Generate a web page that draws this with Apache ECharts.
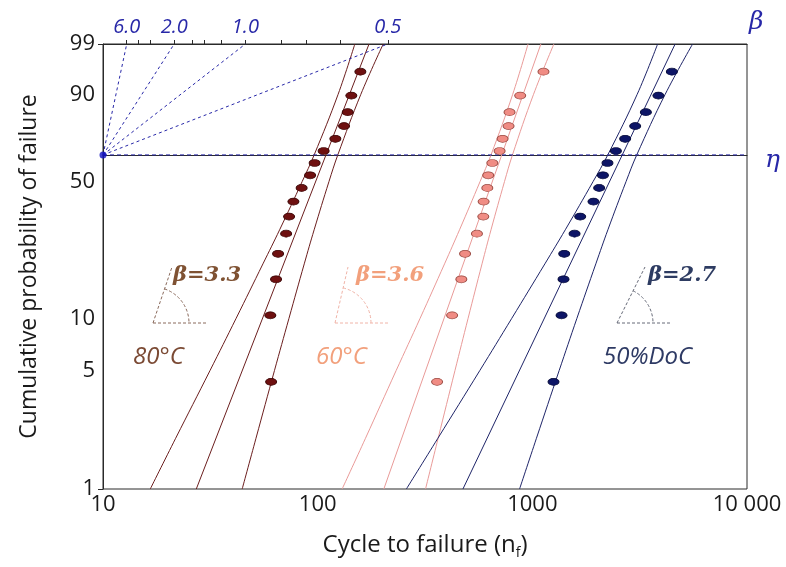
<!DOCTYPE html>
<html>
<head>
<meta charset="utf-8">
<title>Weibull plot</title>
<script src="https://cdn.jsdelivr.net/npm/echarts@6/dist/echarts.min.js"></script>
<style>
  html, body { margin: 0; padding: 0; background: #fff; }
  #chart { width: 786px; height: 567px; }
</style>
</head>
<body>
<div id="chart"></div>
<script>
// 中位秩 (%) - same 16 ranks for every group
const rankProb = [4.3, 10.4, 16.5, 22.6, 28.7, 34.8, 40.9, 47.0, 53.0, 59.1, 65.2, 71.3, 77.4, 83.5, 89.6, 95.7];
// cycles to failure
const cycles80 = [60.7, 60.2, 64.0, 65.4, 71.3, 73.6, 77.1, 84.2, 92.2, 96.8, 106.6, 120.9, 132.7, 138.0, 143.5, 158.1];
const cycles60 = [360, 423, 467, 486, 552, 591, 593, 617, 623, 651, 704, 727, 775, 783, 878, 1127];
const cyclesDoc = [1255, 1368, 1397, 1408, 1573, 1671, 1927, 2048, 2132, 2239, 2451, 2707, 3014, 3380, 3867, 4467];

// fitted lines: cycles at 1% and 99%
const fitProb = [1, 99];
const fit80 = [27.2, 173.5];
const fit60 = [203.3, 1096];
const fitDoc = [475, 4627];

// confidence bounds, cycles at these probabilities
const boundProb = [1, 2, 5, 10, 20, 30, 50, 63.2, 90, 99];
const low80 = [16.6, 21.8, 31.5, 41.7, 55.6, 66.5, 84.7, 96.3, 124.5, 149.0];
const high80 = [44.5, 51.6, 62.9, 73.5, 86.6, 96.3, 112.9, 124.1, 158.9, 202.0];
const low60 = [130, 167, 232, 300, 390, 458, 571, 642, 810, 955];
const high60 = [318, 364, 436, 502, 583, 642, 742, 808, 1013, 1260];
const lowDoc = [259, 363, 569, 802, 1144, 1424, 1919, 2246, 3079, 3835];
const highDoc = [872, 1045, 1333, 1613, 1976, 2249, 2733, 3065, 4157, 5580];

// axis ticks
const probTicks = [1, 5, 10, 50, 90, 99];
const xLabels = {10: '10', 100: '100', 1000: '1000', 10000: '10 000'};
const betaTicks = [6, 4, 3, 2, 1.6, 1.4, 1.2, 1.0, 0.8, 0.7, 0.6, 0.5];
const betaLabels = [6.0, 2.0, 1.0, 0.5];
const etaProb = 63.21;
const poleCycles = 10;

// weibull probability scale
function weib(p) { return Math.log(-Math.log(1 - p / 100)); }
const Tmin = weib(1), Tmax = weib(99);
const yTickVals = probTicks.map(weib);
// beta nomograph: line from pole (10, eta) reaching 99% at this x (log10)
function betaPos(b) { return Math.log10(poleCycles) + Tmax / (b * Math.LN10); }
const betaLabelVals = betaLabels.map(betaPos);

function pts(xs, ps) { return xs.map((x, i) => [x, weib(ps[i])]); }

const C80 = '#6e1010', C60 = '#f08c84', CDOC = '#0d1566';
const L80 = '#6b1e1e', L60 = '#e99a98', LDOC = '#1e2468';
const BLUE = '#2828a8';
const FONT = '"Open Sans", sans-serif';

function bound(data, color) {
  return { type: 'line', data: data, smooth: 0.4, symbol: 'none', silent: true,
    lineStyle: { color: color, width: 1 }, z: 2 };
}
function fitLine(data, color) {
  return { type: 'line', data: data, symbol: 'none', silent: true,
    lineStyle: { color: color, width: 1 }, z: 2 };
}
function dots(data, color, border) {
  return { type: 'scatter', data: data, symbol: 'circle', symbolSize: [11, 7],
    itemStyle: { color: color, borderColor: border, borderWidth: 0.8, opacity: 1 }, z: 5 };
}

let series = [
  bound(pts(low80, boundProb), L80), bound(pts(high80, boundProb), L80), fitLine(pts(fit80, fitProb), L80),
  bound(pts(low60, boundProb), L60), bound(pts(high60, boundProb), L60), fitLine(pts(fit60, fitProb), L60),
  bound(pts(lowDoc, boundProb), LDOC), bound(pts(highDoc, boundProb), LDOC), fitLine(pts(fitDoc, fitProb), LDOC),
  dots(pts(cycles80, rankProb), C80, '#3a0505'),
  dots(pts(cycles60, rankProb), C60, '#9a4a42'),
  dots(pts(cyclesDoc, rankProb), CDOC, '#060b3a'),
  { type: 'line', data: [[10, weib(etaProb)], [10000, weib(etaProb)]], symbol: 'none', silent: true,
    lineStyle: { color: BLUE, width: 1, type: [4, 3] }, z: 3 }
];
betaLabels.forEach(b => {
  series.push({ type: 'line', data: [[poleCycles, weib(etaProb)], [Math.pow(10, betaPos(b)), Tmax]],
    symbol: 'none', silent: true, lineStyle: { color: BLUE, width: 1, type: [3, 3] }, z: 3 });
});
series.push({ type: 'scatter', data: [[poleCycles, weib(etaProb)]], symbolSize: 7,
  itemStyle: { color: '#1010c0' }, z: 6 });

// angle glyphs + labels
function glyph(vx, vy, tx, ty, color) {
  const a = Math.atan2(ty - vy, tx - vx);
  const ls = { stroke: color, lineWidth: 1, lineDash: [3, 2], fill: null };
  return [
    { type: 'line', shape: { x1: vx, y1: vy, x2: vx + 55, y2: vy }, style: ls },
    { type: 'line', shape: { x1: vx, y1: vy, x2: tx, y2: ty }, style: ls },
    { type: 'arc', shape: { cx: vx, cy: vy, r: 36, startAngle: a, endAngle: 0, clockwise: true }, style: ls }
  ];
}
function label(x, y, text, color, opts) {
  return { type: 'text', x: x, y: y, style: Object.assign({ text: text, fill: color,
    fontSize: 24, fontStyle: 'italic', fontFamily: FONT, verticalAlign: 'middle' }, opts || {}) };
}
const serifB = { fontFamily: '"DejaVu Serif", serif', fontWeight: 'bold', fontSize: 21 };

let graphic = [].concat(
  glyph(153, 323, 172, 267, '#8a6a5c'),
  glyph(335, 323, 348, 267, '#f0b4a8'),
  glyph(617, 323, 645, 267, '#666a78'),
  [
    label(173, 276, 'β=3.3', '#7f5233', serifB),
    label(133, 357, '80°C', '#7b4a34'),
    label(356, 276, 'β=3.6', '#f2a07c', serifB),
    label(316, 357, '60°C', '#f2a07c'),
    label(648, 276, 'β=2.7', '#2e3c62', serifB),
    label(603, 357, '50%DoC', '#2e3a64'),
    label(749, 22, 'β', BLUE, { fontFamily: '"DejaVu Serif", serif', fontSize: 25 }),
    label(765, 160, 'η', BLUE, { fontFamily: '"DejaVu Serif", serif', fontSize: 25 })
  ]
);

const chart = echarts.init(document.getElementById('chart'), null, { renderer: 'canvas' });
chart.setOption({
  animation: false,
  backgroundColor: '#fff',
  grid: { left: 103, right: 39, top: 44, bottom: 78, show: true, borderColor: '#2a2a2a', borderWidth: 1 },
  xAxis: [
    { type: 'log', logBase: 10, min: 10, max: 10000,
      name: '{n|Cycle to failure (n}{s|f}{n|)}', nameLocation: 'middle', nameGap: 41,
      nameTextStyle: { rich: {
        n: { fontSize: 24, color: '#1a1a1a', fontFamily: FONT, lineHeight: 30, verticalAlign: 'middle' },
        s: { fontSize: 14, color: '#1a1a1a', fontFamily: FONT, lineHeight: 30, verticalAlign: 'bottom' } } },
      axisLine: { lineStyle: { color: '#2a2a2a' } },
      axisTick: { show: false }, minorTick: { show: false }, splitLine: { show: false },
      axisLabel: { fontSize: 22, color: '#1a1a1a', fontFamily: FONT, margin: 5,
        formatter: v => xLabels[Math.round(v)] || '' } },
    { type: 'value', position: 'top', min: 1, max: 4,
      axisLine: { show: true, lineStyle: { color: '#2a2a2a' } },
      axisTick: { show: true, inside: false, length: 4, customValues: betaTicks.map(betaPos), lineStyle: { color: '#2a2a2a' } },
      axisLabel: { customValues: betaLabelVals, fontSize: 20, color: BLUE, fontStyle: 'italic', fontFamily: FONT, margin: 7,
        formatter: v => {
          const i = betaLabelVals.findIndex(t => Math.abs(t - v) < 1e-6);
          return i >= 0 ? betaLabels[i].toFixed(1) : '';
        } },
      splitLine: { show: false } }
  ],
  yAxis: {
    type: 'value', min: Tmin, max: Tmax,
    name: 'Cumulative probability of failure', nameLocation: 'middle', nameRotate: 90, nameGap: 62,
    nameTextStyle: { fontSize: 23, color: '#1a1a1a', fontFamily: FONT },
    axisLine: { show: true, lineStyle: { color: '#2a2a2a' } },
    axisTick: { show: true, length: 5, customValues: [Tmin, Tmax], lineStyle: { color: '#2a2a2a' } },
    axisLabel: { customValues: yTickVals, fontSize: 22, color: '#1a1a1a', fontFamily: FONT, margin: 8,
      formatter: v => {
        const i = yTickVals.findIndex(t => Math.abs(t - v) < 1e-6);
        return i >= 0 ? String(probTicks[i]) : '';
      } },
    splitLine: { show: false }
  },
  series: series,
  graphic: graphic
});
</script>
</body>
</html>
